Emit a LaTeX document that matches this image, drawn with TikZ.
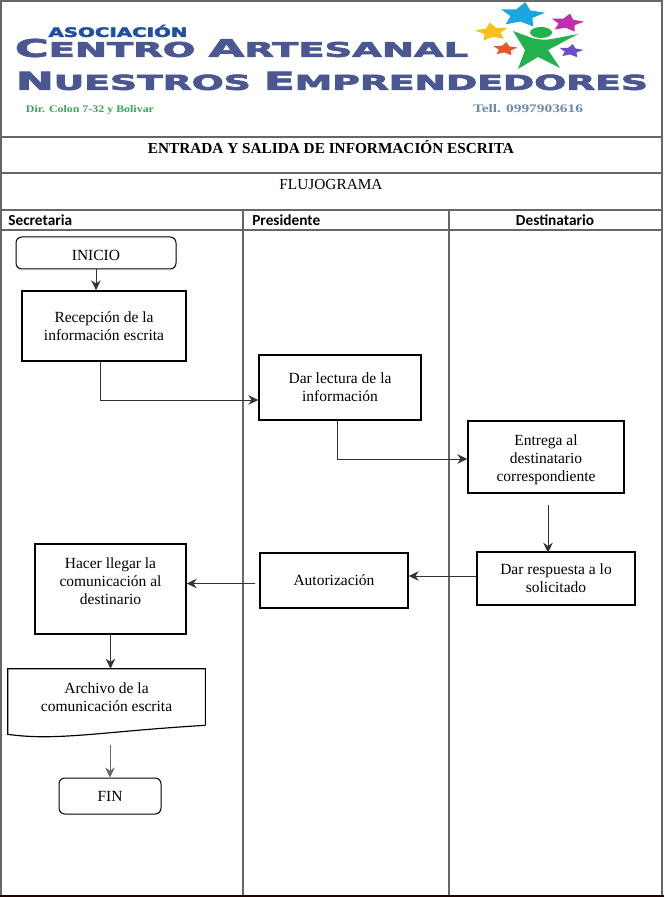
\documentclass[tikz,border=0pt]{standalone}
\usepackage{fontspec}
\setmainfont{Liberation Serif}
\setsansfont{Carlito}
\newfontfamily\logofont[BoldFeatures={FakeBold=3}]{DejaVu Sans}
\usepackage{graphicx}
\usetikzlibrary{positioning,arrows.meta,calc,shapes.geometric}
\definecolor{lanegray}{HTML}{666666}
\definecolor{logoblue}{HTML}{4B5793}
\definecolor{logodeep}{HTML}{1F4FA5}
\definecolor{logogreen}{HTML}{22B14C}
\definecolor{logoteal}{HTML}{3AA65C}
\definecolor{logosteel}{HTML}{6D8BAB}
\tikzset{
  boxsize/.style 2 args={minimum width=#1*0.6pt, minimum height=#2*0.6pt},
  proc/.style={draw=black, line width=0.85pt, align=center, inner sep=0pt,
               font=\fontsize{9.3}{10.7}\selectfont},
  term/.style={proc, line width=0.6pt, rounded corners=3.5pt},
  docbox/.style={align=center, inner sep=0pt, font=\fontsize{9.3}{10.7}\selectfont},
  lanehead/.style={font=\fontsize{9.2}{11}\sffamily\bfseries, inner sep=0pt},
  laneline/.style={draw=lanegray, line width=1pt},
  flowarr/.style={-{Stealth[length=2.1mm,width=2mm]}, line width=0.5pt, draw=black!80},
  logotxt/.style={inner sep=0pt, text=logoblue, font=\logofont\bfseries},
}
\newcommand{\fitlogo}[3]{\resizebox{\dimexpr 0.6pt*#1\relax}{\dimexpr 0.6pt*#2\relax}{#3}}

\begin{document}
\begin{tikzpicture}[x=0.6pt,y=-0.6pt]
  \useasboundingbox (0,0) rectangle (664,897);
  \fill[white] (0,0) rectangle (664,897);
  % logo lettering
  \node[logotxt, text=logodeep] (asoc) at (118,31) {\fitlogo{139}{12}{ASOCIACIÓN}};
  \node[logotxt] (centro) at (241.5,48) {\fitlogo{453}{18}{{\large C}ENTRO {\large A}RTESANAL}};
  \node[logotxt] (nuestros) at (332,81) {\fitlogo{632}{18}{{\large N}UESTROS {\large E}MPRENDEDORES}};
  \node[inner sep=0pt, text=logoteal, font=\bfseries] (direc) at (90,110) {\fitlogo{128}{7}{Dir. Colon 7-32 y Bolivar}};
  \node[inner sep=0pt, text=logosteel, font=\bfseries] (telef) at (528,109) {\fitlogo{110}{8}{Tell. 0997903616}};
  % stars round the figure
  \foreach \n/\c/\x/\y/\r/\a in {blue/1AA7E0/522/15/26/-8, magenta/C02FAE/567/23/19/-10,
      yellow/FBBF1C/492/32/19/8, orange/E8562A/505/49/14/-6, purple/6A4FC8/571/51/14/-8} {
    \definecolor{starcol}{HTML}{\c}
    \begin{scope}[shift={(\x,\y)}, xscale=1.8]
      \node[star, star points=5, star point ratio=2, fill=starcol, inner sep=0pt,
            minimum size=\r*0.6pt, rotate=\a, transform shape] (star\n) at (0,0) {};
    \end{scope}
  }
  \fill[logogreen] (541,32.5) ellipse (11 and 5.5);
  \fill[logogreen] (513,31) -- (532,38) .. controls (540,40) and (546,40) .. (552,39)
      -- (578,34) -- (548,50) -- (560,68) -- (538,57) -- (518,69) -- (525,50) -- cycle;
  % table frame
  \draw[laneline] (1,1) -- (662,1) -- (662,896) -- (1,896) -- cycle;
  \foreach \y in {137,173,210,230} { \draw[laneline] (1,\y) -- (662,\y); }
  \foreach \x in {243,449} { \draw[laneline] (\x,210) -- (\x,896); }
  \draw[black!85!red, line width=1.2pt] (0,896.3) -- (664,896.3);
  % titles
  \node[inner sep=0pt, font=\fontsize{9.17}{12}\selectfont\bfseries] (titulo) at (331,147) {ENTRADA Y SALIDA DE INFORMACIÓN ESCRITA};
  \node[inner sep=0pt, font=\fontsize{9.2}{12}\selectfont] (flujo) at (331,184.5) {FLUJOGRAMA};
  \node[lanehead, anchor=west] (secre) at (8,220) {Secretaria};
  \node[lanehead, anchor=west] (presi) at (252,220) {Presidente};
  \node[lanehead] (desti) at (555,220) {Destinatario};
  % steps
  \node[term, boxsize={160}{32}] (inicio) at (96,253) {\rule{0pt}{8.6pt}INICIO};
  \node[proc, boxsize={164}{70}] (recep) at (104,326) {Recepción de la\\información escrita};
  \node[proc, boxsize={162}{65}] (lectura) at (340,387.5) {Dar lectura de la\\información};
  \node[proc, boxsize={156}{72}] (entrega) at (546,457) {\rule{0pt}{9.5pt}Entrega al\\destinatario\\correspondiente};
  \node[proc, boxsize={158}{53}] (respuesta) at (556,578.5) {Dar respuesta a lo\\solicitado};
  \node[proc, boxsize={148}{55}] (autor) at (334,580.5) {Autorización};
  \node[proc, boxsize={151}{90}] (hacer) at (110.5,589) {Hacer llegar la\\comunicación al\\destinario\\[-1.6pt]\mbox{}};
  \node[docbox, boxsize={197}{56}] (archivo) at (106.5,697) {Archivo de la\\comunicación escrita};
  \node[term, boxsize={102}{36}] (fin) at (110,796) {FIN};
  % wavy lower edge of the document box
  \draw[line width=0.7pt] (archivo.south east) -- (archivo.north east) -- (archivo.north west)
      -- ($(archivo.south west)+(0,9)$)
      .. controls ($(archivo.south west)+(50,16)$) and ($(archivo.south west)+(95,6)$) .. (archivo.south east);
  % connectors
  \draw[flowarr] (inicio.south) -- (inicio.south |- recep.north);
  \draw[flowarr] ($(recep.south)+(-4,0)$) |- ($(lectura.west)+(0,12.5)$);
  \draw[flowarr] ($(lectura.south)+(-3,0)$) |- ($(entrega.west)+(0,2)$);
  \draw[flowarr] ($(entrega.south)+(2,11)$) -- ($(entrega.south)+(2,59)$);
  \draw[flowarr] ($(respuesta.west)+(0,-2.5)$) -- ($(autor.east)+(0,-4.5)$);
  \draw[flowarr] ($(autor.west)+(-4,3)$) -- ($(hacer.east)+(0,-5.5)$);
  \draw[flowarr] (hacer.south) -- (hacer.south |- archivo.north);
  \draw[flowarr, draw=black!60] ($(archivo.south)+(3.5,20)$) -- (fin.north);
\end{tikzpicture}
\end{document}
